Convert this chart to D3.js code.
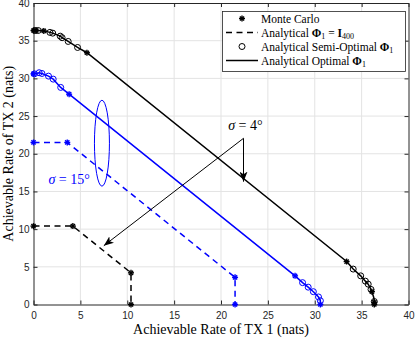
<!DOCTYPE html>
<html>
<head>
<meta charset="utf-8">
<script src="https://cdn.jsdelivr.net/npm/d3@7"></script>
<style>
  body { margin: 0; background: #fff; }
  svg { display: block; }
</style>
</head>
<body>
<div id="chart"></div>
<script>
// tick values
const xTicks = [0, 5, 10, 15, 20, 25, 30, 35, 40];
const yTicks = [0, 5, 10, 15, 20, 25, 30, 35, 40];

// sigma = 4 deg (black)
const opt4 = [[0,36.35],[0.5,36.35],[1.1,36.3],[1.75,36.1],[2.05,36.0],[2.85,35.6],[3.05,35.4],[3.7,34.9],[4.7,34.1],[5.7,33.4],
              [33.4,5.7],[34.1,4.7],[34.9,3.8],[35.4,3.1],[35.7,2.7],[36.0,2.0],[36.1,1.7],[36.3,0.9],[36.35,0.4],[36.35,0]];
const semi4 = [[0.15,36.35],[0.5,36.35],[1.75,36.1],[2.05,36.0],[2.85,35.6],[3.05,35.4],[3.7,34.9],[4.7,34.1],
               [34.1,4.7],[34.9,3.8],[35.4,3.1],[35.7,2.7],[36.0,2.0],[36.35,0.4]];
const mc4 = [[0,36.35],[0.3,36.35],[1.1,36.3],[5.7,33.4],[33.4,5.7],[36.1,1.7],[36.35,0.3],[36.35,0]];
const iid4 = [[0,10.4],[4.2,10.4],[10.4,4.2],[10.4,0]];

// sigma = 15 deg (blue)
const opt15 = [[0,30.6],[0.3,30.65],[0.6,30.75],[0.9,30.65],[1.6,30.3],[2.1,29.9],[2.9,28.8],[3.8,27.9],
               [27.9,3.8],[28.7,2.9],[29.3,2.3],[29.85,1.7],[30.4,1.0],[30.6,0.5],[30.6,0]];
const semi15 = [[0.1,30.6],[0.6,30.75],[0.9,30.65],[1.6,30.3],[2.1,29.9],[2.9,28.8],
                [28.7,2.9],[29.3,2.3],[29.85,1.7],[30.4,1.0],[30.6,0.5]];
const mc15 = [[0,30.6],[3.8,27.9],[27.9,3.8],[30.6,0]];
const iid15 = [[0,21.5],[3.6,21.5],[21.5,3.6],[21.5,0]];

const W = 415, H = 338;
const x = d3.scaleLinear().domain([0, 40]).range([33.5, 408.5]);
const y = d3.scaleLinear().domain([0, 40]).range([304.5, 3]);

const svg = d3.select("#chart").append("svg").attr("width", W).attr("height", H);

const defs = svg.append("defs");
defs.append("marker")
  .attr("id", "head")
  .attr("viewBox", "0 0 10 8")
  .attr("refX", 10).attr("refY", 4)
  .attr("markerWidth", 10).attr("markerHeight", 8)
  .attr("markerUnits", "userSpaceOnUse")
  .attr("orient", "auto")
  .append("path").attr("d", "M0,0 L10,4 L0,8 L2.5,4 Z").attr("fill", "#000");

// grid
const grid = svg.append("g").attr("stroke", "#e3e3e3").attr("stroke-width", 1);
xTicks.slice(1, -1).forEach(t => grid.append("line").attr("x1", x(t)).attr("x2", x(t)).attr("y1", y(0)).attr("y2", y(40)));
yTicks.slice(1, -1).forEach(t => grid.append("line").attr("y1", y(t)).attr("y2", y(t)).attr("x1", x(0)).attr("x2", x(40)));

// axes, inward ticks on all sides
const tickFont = g => g.selectAll("text").attr("font-family", "Liberation Sans, Arial, sans-serif").attr("font-size", 10).attr("fill", "#262626");
svg.append("g").attr("transform", "translate(0," + y(0) + ")")
  .call(d3.axisBottom(x).tickValues(xTicks).tickSize(-4).tickPadding(7).tickSizeOuter(0))
  .call(tickFont);
svg.append("g").attr("transform", "translate(" + x(0) + ",0)")
  .call(d3.axisLeft(y).tickValues(yTicks).tickSize(-4).tickPadding(4).tickSizeOuter(0))
  .call(tickFont);
svg.append("g").attr("transform", "translate(0," + y(40) + ")")
  .call(d3.axisTop(x).tickValues(xTicks).tickSize(-4).tickFormat("").tickSizeOuter(0));
svg.append("g").attr("transform", "translate(" + x(40) + ",0)")
  .call(d3.axisRight(y).tickValues(yTicks).tickSize(-4).tickFormat("").tickSizeOuter(0));
svg.selectAll(".domain").attr("stroke", "#262626");
svg.selectAll(".tick line").attr("stroke", "#262626");

// axis labels
svg.append("text").attr("x", (x(0) + x(40)) / 2).attr("y", 334)
  .attr("text-anchor", "middle").attr("font-family", "Liberation Serif, serif").attr("font-size", 14)
  .text("Achievable Rate of TX 1 (nats)");
svg.append("text").attr("transform", "translate(13," + (y(0) + y(40)) / 2 + ") rotate(-90)")
  .attr("text-anchor", "middle").attr("font-family", "Liberation Serif, serif").attr("font-size", 14)
  .text("Achievable Rate of TX 2 (nats)");

const line = d3.line().x(d => x(d[0])).y(d => y(d[1]));

function star(g, pts, color) {
  const r = 3;
  pts.forEach(p => {
    const cx = x(p[0]), cy = y(p[1]);
    const s = g.append("g").attr("stroke", color).attr("stroke-width", 1.4);
    s.append("line").attr("x1", cx - r).attr("x2", cx + r).attr("y1", cy).attr("y2", cy);
    s.append("line").attr("x1", cx).attr("x2", cx).attr("y1", cy - r).attr("y2", cy + r);
    s.append("line").attr("x1", cx - r * 0.7).attr("x2", cx + r * 0.7).attr("y1", cy - r * 0.7).attr("y2", cy + r * 0.7);
    s.append("line").attr("x1", cx - r * 0.7).attr("x2", cx + r * 0.7).attr("y1", cy + r * 0.7).attr("y2", cy - r * 0.7);
  });
}

function series(opt, semi, mc, iid, color) {
  const g = svg.append("g");
  g.append("path").datum(iid).attr("d", line).attr("fill", "none")
    .attr("stroke", color).attr("stroke-width", 1.5).attr("stroke-dasharray", "6,4.5");
  g.append("path").datum(opt).attr("d", line).attr("fill", "none")
    .attr("stroke", color).attr("stroke-width", 1.5);
  g.selectAll("circle").data(semi).enter().append("circle")
    .attr("cx", d => x(d[0])).attr("cy", d => y(d[1])).attr("r", 3)
    .attr("fill", "none").attr("stroke", color).attr("stroke-width", 1);
  star(g, mc.concat(iid), color);
}
series(opt4, semi4, mc4, iid4, "#000");
series(opt15, semi15, mc15, iid15, "#0000ff");

// annotations
const serif = "Liberation Serif, serif";
svg.append("ellipse")
  .attr("cx", x(7.3)).attr("cy", y(21.4))
  .attr("rx", x(8.1) - x(7.3)).attr("ry", y(15.7) - y(21.4))
  .attr("fill", "none").attr("stroke", "#0000ff").attr("stroke-width", 1);

function sigmaLabel(tx, ty, deg, color) {
  const t = svg.append("text").attr("x", x(tx)).attr("y", y(ty)).attr("text-anchor", "middle")
    .attr("font-family", serif).attr("font-size", 14).attr("fill", color);
  t.append("tspan").attr("font-style", "italic").text("σ");
  t.append("tspan").text(" = " + deg + "°");
}
sigmaLabel(3.8, 16.0, 15, "#0000ff");
sigmaLabel(22.6, 23.1, 4, "#000");

const arrowFrom = [22.4, 22.05];
[[22.4, 16.3], [7.5, 7.8]].forEach(to => {
  svg.append("line")
    .attr("x1", x(arrowFrom[0])).attr("y1", y(arrowFrom[1]))
    .attr("x2", x(to[0])).attr("y2", y(to[1]))
    .attr("stroke", "#000").attr("stroke-width", 1).attr("marker-end", "url(#head)");
});

// legend
const lg = svg.append("g");
lg.append("rect").attr("x", 222.5).attr("y", 11.5).attr("width", 183).attr("height", 60)
  .attr("fill", "#fff").attr("stroke", "#262626").attr("stroke-width", 0.8);
const rows = [18.5, 32.5, 46.5, 60.5];
const lx1 = 226, lx2 = 258, lmid = 242, tx = 261;
star(lg, [[x.invert(lmid), y.invert(rows[0])]], "#000");
lg.append("line").attr("x1", lx1).attr("x2", lx2).attr("y1", rows[1]).attr("y2", rows[1])
  .attr("stroke", "#000").attr("stroke-width", 1.5).attr("stroke-dasharray", "6,4.5");
lg.append("circle").attr("cx", lmid).attr("cy", rows[2]).attr("r", 3)
  .attr("fill", "none").attr("stroke", "#000").attr("stroke-width", 1);
lg.append("line").attr("x1", lx1).attr("x2", lx2).attr("y1", rows[3]).attr("y2", rows[3])
  .attr("stroke", "#000").attr("stroke-width", 1.5);

function legText(row) {
  return lg.append("text").attr("x", tx).attr("y", row + 4)
    .attr("font-family", serif).attr("font-size", 11.5).attr("fill", "#000");
}
legText(rows[0]).text("Monte Carlo");
let t = legText(rows[1]);
t.append("tspan").text("Analytical ");
t.append("tspan").attr("font-weight", "bold").text("Φ");
t.append("tspan").attr("font-size", 8).attr("dy", 2).text("1");
t.append("tspan").attr("dy", -2).text(" = ");
t.append("tspan").attr("font-weight", "bold").text("I");
t.append("tspan").attr("font-size", 8).attr("dy", 2).text("400");
t = legText(rows[2]);
t.append("tspan").text("Analytical Semi-Optimal ");
t.append("tspan").attr("font-weight", "bold").text("Φ");
t.append("tspan").attr("font-size", 8).attr("dy", 2).text("1");
t = legText(rows[3]);
t.append("tspan").text("Analytical Optimal ");
t.append("tspan").attr("font-weight", "bold").text("Φ");
t.append("tspan").attr("font-size", 8).attr("dy", 2).text("1");
</script>
</body>
</html>
